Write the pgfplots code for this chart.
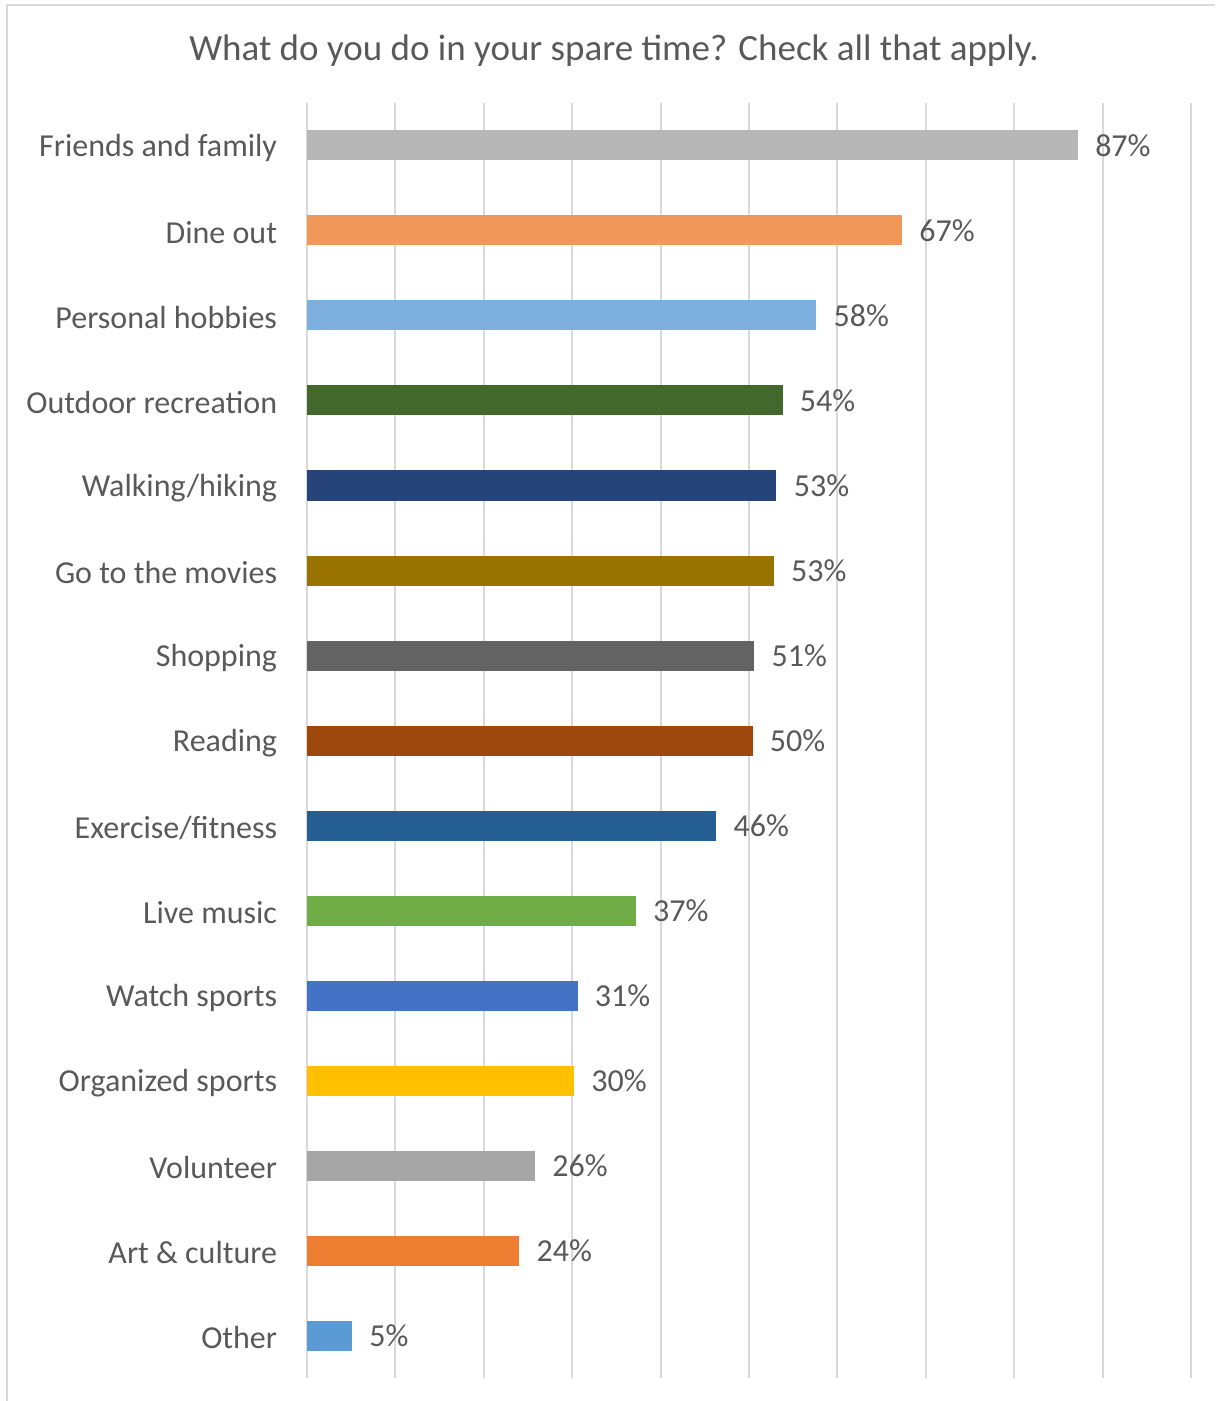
\documentclass[border=0pt]{standalone}
\usepackage{fontspec}
\setmainfont{Carlito}
\usepackage{pgfplots}
\pgfplotsset{compat=1.18}
\definecolor{txt}{HTML}{595959}
\definecolor{grd}{HTML}{D9D9D9}
\definecolor{c01}{HTML}{B7B7B7}
\definecolor{c02}{HTML}{F1975A}
\definecolor{c03}{HTML}{7CAFDD}
\definecolor{c04}{HTML}{43682B}
\definecolor{c05}{HTML}{264478}
\definecolor{c06}{HTML}{997300}
\definecolor{c07}{HTML}{636363}
\definecolor{c08}{HTML}{9E480E}
\definecolor{c09}{HTML}{255E91}
\definecolor{c10}{HTML}{70AD47}
\definecolor{c11}{HTML}{4472C4}
\definecolor{c12}{HTML}{FFC000}
\definecolor{c13}{HTML}{A5A5A5}
\definecolor{c14}{HTML}{ED7D31}
\definecolor{c15}{HTML}{5B9BD5}
\begin{document}
\begin{tikzpicture}[x=1pt,y=1pt]
\useasboundingbox (-153.5,-11.5) rectangle (454,689);
% chart frame, only the left and top edges are inside the crop
\draw[grd, line width=1pt] (-150,-11.5) -- (-150,686.5) -- (454,686.5);
\node[text=txt, font=\fontsize{18.5}{22}\selectfont] at (153.5,663.5)
  {What do you do in your spare time? Check all that apply.};
\begin{axis}[
    at={(0,0)}, anchor=south west,
    scale only axis,
    width=442pt, height=637.5pt,
    xbar, bar width=15pt, bar shift=0pt,
    xmin=0, xmax=100, xtick={0,10,...,100},
    xticklabel=\empty,
    xmajorgrids, major grid style={grd, line width=1pt},
    ymin=-0.5, ymax=14.5, y dir=reverse,
    ytick={0,...,14},
    yticklabels={Friends and family, Dine out, Personal hobbies,
      Outdoor recreation, Walking/hiking, Go to the movies, Shopping,
      Reading, Exercise/fitness, Live music, Watch sports,
      Organized sports, Volunteer, Art \& culture, Other},
    yticklabel style={text=txt, font=\fontsize{16}{19}\selectfont,
      inner sep=0pt, xshift=-10.5pt, yshift=-1.2pt},
    axis line style={draw=none},
    tick style={draw=none},
    clip=false,
    point meta=x,
    nodes near coords={\pgfmathprintnumber[fixed,precision=0,assume math mode=true]{\pgfplotspointmeta}\%},
    every node near coord/.append style={anchor=west, inner sep=0pt,
      xshift=8.5pt, text=txt, font=\fontsize{16}{19}\selectfont},
  ]
  \addplot[fill=c01, draw=none] coordinates {(87.2,0)};
  \addplot[fill=c02, draw=none] coordinates {(67.3,1)};
  \addplot[fill=c03, draw=none] coordinates {(57.6,2)};
  \addplot[fill=c04, draw=none] coordinates {(53.8,3)};
  \addplot[fill=c05, draw=none] coordinates {(53.1,4)};
  \addplot[fill=c06, draw=none] coordinates {(52.8,5)};
  \addplot[fill=c07, draw=none] coordinates {(50.6,6)};
  \addplot[fill=c08, draw=none] coordinates {(50.4,7)};
  \addplot[fill=c09, draw=none] coordinates {(46.3,8)};
  \addplot[fill=c10, draw=none] coordinates {(37.2,9)};
  \addplot[fill=c11, draw=none] coordinates {(30.6,10)};
  \addplot[fill=c12, draw=none] coordinates {(30.2,11)};
  \addplot[fill=c13, draw=none] coordinates {(25.8,12)};
  \addplot[fill=c14, draw=none] coordinates {(24.0,13)};
  \addplot[fill=c15, draw=none] coordinates {(5.1,14)};
\end{axis}
\end{tikzpicture}
\end{document}
